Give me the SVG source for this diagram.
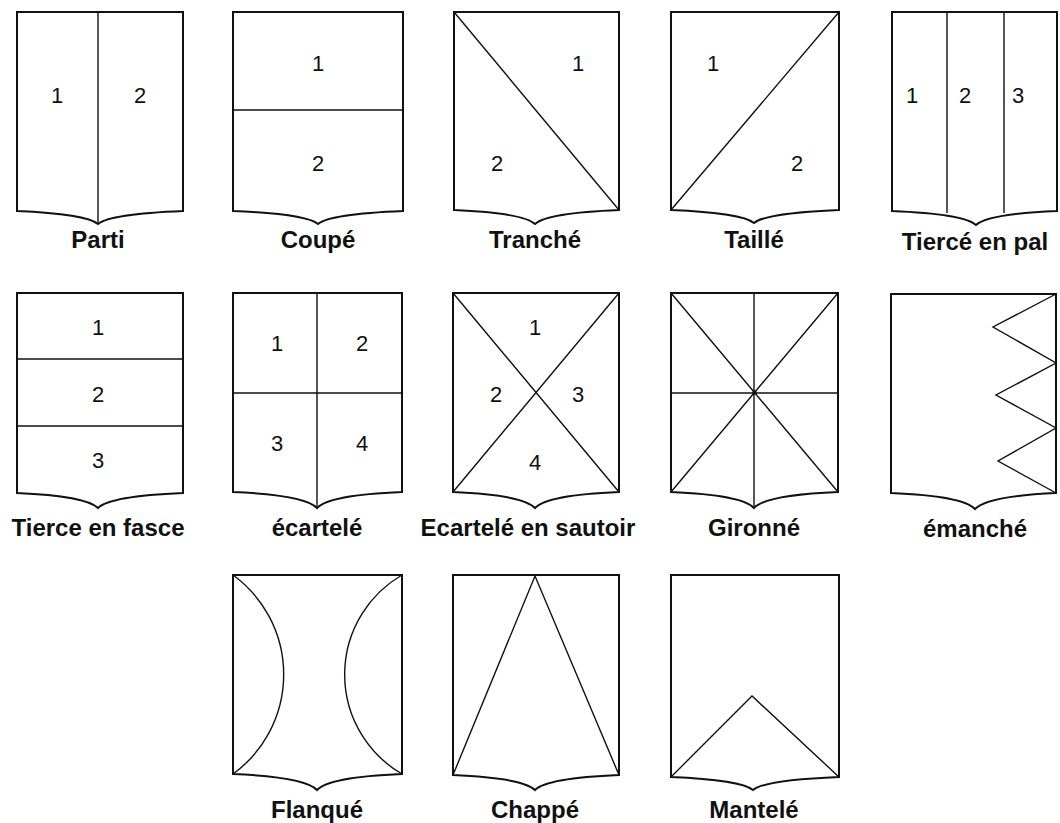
<svg xmlns="http://www.w3.org/2000/svg" width="1060" height="823" viewBox="0 0 1060 823">
<style>
.sh{fill:#fff;stroke:#111;stroke-width:2;stroke-linejoin:miter}
.ln{fill:none;stroke:#111;stroke-width:1.4}
.num{font-family:"Liberation Sans",Arial,sans-serif;font-size:22px;fill:#111;text-anchor:middle}
.lab{font-family:"Liberation Sans",Arial,sans-serif;font-size:24px;font-weight:bold;fill:#111;text-anchor:middle}
</style>
<rect width="1060" height="823" fill="#fff"/>

<g id="parti">
<path class="sh" d="M17,12 H183 V211 Q110,214 98,224 Q86,214 17,211 Z"/>
<path class="ln" d="M98,12 V224"/>
<text class="num" x="57" y="103">1</text>
<text class="num" x="140" y="103">2</text>
<text class="lab" x="98" y="248">Parti</text>
</g>

<g id="coupe">
<path class="sh" d="M233,12 H403 V211 Q330,214 318,224 Q306,214 233,211 Z"/>
<path class="ln" d="M233,110 H403"/>
<text class="num" x="318" y="71">1</text>
<text class="num" x="318" y="171">2</text>
<text class="lab" x="318" y="248">Coupé</text>
</g>

<g id="tranche">
<path class="sh" d="M454,12 H619 V210 Q547,213 535,224 Q523,213 454,210 Z"/>
<path class="ln" d="M454,12 L619,210"/>
<text class="num" x="578" y="71">1</text>
<text class="num" x="497" y="171">2</text>
<text class="lab" x="535" y="248">Tranché</text>
</g>

<g id="taille">
<path class="sh" d="M671,12 H839 V210 Q766,213 754,223 Q742,213 671,210 Z"/>
<path class="ln" d="M671,210 L839,12"/>
<text class="num" x="713" y="71">1</text>
<text class="num" x="797" y="171">2</text>
<text class="lab" x="754" y="248">Taillé</text>
</g>

<g id="tierce-en-pal">
<path class="sh" d="M892,12 H1057 V211 Q988,214 976,225 Q964,214 892,211 Z"/>
<path class="ln" d="M947,12 V213 M1004,12 V213"/>
<text class="num" x="912" y="103">1</text>
<text class="num" x="965" y="103">2</text>
<text class="num" x="1018" y="103">3</text>
<text class="lab" x="975" y="250">Tiercé en pal</text>
</g>

<g id="tierce-en-fasce">
<path class="sh" d="M17,293 H183 V493 Q110,496 98,508 Q86,496 17,493 Z"/>
<path class="ln" d="M17,359 H183 M17,426 H183"/>
<text class="num" x="98" y="335">1</text>
<text class="num" x="98" y="402">2</text>
<text class="num" x="98" y="468">3</text>
<text class="lab" x="98" y="536">Tierce en fasce</text>
</g>

<g id="ecartele">
<path class="sh" d="M233,293 H402 V492 Q329,495 317,508 Q305,495 233,492 Z"/>
<path class="ln" d="M317,293 V508 M233,393 H402"/>
<text class="num" x="277" y="351">1</text>
<text class="num" x="362" y="351">2</text>
<text class="num" x="277" y="451">3</text>
<text class="num" x="362" y="451">4</text>
<text class="lab" x="317" y="536">écartelé</text>
</g>

<g id="ecartele-en-sautoir">
<path class="sh" d="M453,293 H619 V492 Q547,495 535,508 Q523,495 453,492 Z"/>
<path class="ln" d="M453,293 L619,492 M619,293 L453,492"/>
<text class="num" x="535" y="335">1</text>
<text class="num" x="496" y="402">2</text>
<text class="num" x="578" y="402">3</text>
<text class="num" x="535" y="470">4</text>
<text class="lab" x="528" y="536">Ecartelé en sautoir</text>
</g>

<g id="gironne">
<path class="sh" d="M671,293 H838 V492 Q766,495 754,508 Q742,495 671,492 Z"/>
<path class="ln" d="M754,293 V508 M671,393 H838 M671,293 L838,492 M838,293 L671,492"/>
<circle cx="754.5" cy="392.5" r="2.2" fill="#111"/>
<text class="lab" x="754" y="536">Gironné</text>
</g>

<g id="emanche">
<path class="sh" d="M891,294 H1056 V493 Q987,496 975,509 Q963,496 891,493 Z"/>
<path class="ln" d="M1056,294 L993,327 L1056,363 L996,395 L1056,428 L998,461 L1056,493"/>
<text class="lab" x="975" y="537">émanché</text>
</g>

<g id="flanque">
<path class="sh" d="M233,575 H402 V774 Q329,777 317,790 Q305,777 233,774 Z"/>
<path class="ln" d="M233,575 A123,123 0 0 1 233,774 M402,575 A115,115 0 0 0 402,774"/>
<text class="lab" x="317" y="818">Flanqué</text>
</g>

<g id="chappe">
<path class="sh" d="M453,575 H619 V775 Q547,778 535,790 Q523,778 453,775 Z"/>
<path class="ln" d="M453,775 L535,576 L619,775"/>
<text class="lab" x="535" y="818">Chappé</text>
</g>

<g id="mantele">
<path class="sh" d="M671,575 H839 V777 Q765,780 753,790 Q741,780 671,777 Z"/>
<path class="ln" d="M671,777 L752,696 L839,777"/>
<text class="lab" x="754" y="818">Mantelé</text>
</g>

<g id="connectors"></g>
</svg>
